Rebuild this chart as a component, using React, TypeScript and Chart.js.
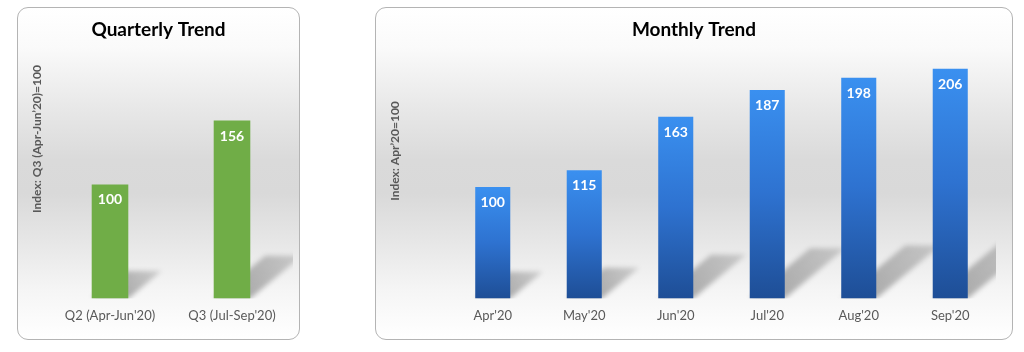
import React, { useEffect, useRef } from "react";
import { Chart, registerables } from "chart.js";

Chart.register(...registerables);

const quarterCategories = ["Q2 (Apr-Jun'20)", "Q3 (Jul-Sep'20)"];
const quarterValues = [100, 156];
const quarterTitle = "Quarterly Trend";
const quarterAxisTitle = "Index: Q3 (Apr-Jun’20)=100";

const monthCategories = ["Apr'20", "May'20", "Jun'20", "Jul'20", "Aug'20", "Sep'20"];
const monthValues = [100, 115, 163, 187, 198, 206];
const monthTitle = "Monthly Trend";
const monthAxisTitle = "Index: Apr’20=100";

const FONT = "Lato, 'Open Sans', sans-serif";

const barShadowPlugin = {
  id: "barShadow",
  beforeDatasetsDraw(chart: any) {
    const ctx = chart.ctx;
    const area = chart.chartArea;
    const meta = chart.getDatasetMeta(0);
    ctx.save();
    ctx.beginPath();
    ctx.rect(area.left, area.top - 100, area.right - area.left, area.bottom - area.top + 100);
    ctx.clip();
    ctx.filter = "blur(2.5px)";
    meta.data.forEach((bar: any) => {
      const { x, y, base, width } = bar.getProps(["x", "y", "base", "width"], true);
      const h = base - y;
      const L = x - width / 2;
      const R = x + width / 2;
      const dx = h * 0.29;
      const dy = h * 0.24;
      const g = ctx.createLinearGradient(R, base, R + dx, base - dy);
      g.addColorStop(0, "rgba(0,0,0,0.3)");
      g.addColorStop(1, "rgba(0,0,0,0.14)");
      ctx.fillStyle = g;
      ctx.beginPath();
      ctx.moveTo(L, base);
      ctx.lineTo(R, base);
      ctx.lineTo(R + dx, base - dy);
      ctx.lineTo(L + dx, base - dy);
      ctx.closePath();
      ctx.fill();
    });
    ctx.restore();
  },
};

const valueLabelPlugin = {
  id: "valueLabels",
  afterDatasetsDraw(chart: any) {
    const ctx = chart.ctx;
    const meta = chart.getDatasetMeta(0);
    const values = chart.data.datasets[0].data;
    ctx.save();
    ctx.fillStyle = "#ffffff";
    ctx.font = `bold 14px ${FONT}`;
    ctx.textAlign = "center";
    ctx.textBaseline = "middle";
    meta.data.forEach((bar: any, i: number) => {
      const { x, y } = bar.getProps(["x", "y"], true);
      ctx.fillText(String(values[i]), x, y + 15.5);
    });
    ctx.restore();
  },
};

const panelTextPlugin = {
  id: "panelText",
  afterDraw(chart: any, _args: any, opts: any) {
    if (!opts) return;
    const ctx = chart.ctx;
    ctx.save();
    ctx.fillStyle = "#000000";
    ctx.font = `bold 19px ${FONT}`;
    ctx.textAlign = "center";
    ctx.textBaseline = "middle";
    ctx.fillText(opts.title, chart.width / 2, opts.titleY);
    ctx.translate(opts.axisX, opts.axisY);
    ctx.rotate(-Math.PI / 2);
    ctx.fillStyle = "#595959";
    ctx.font = `bold 12px ${FONT}`;
    ctx.fillText(opts.axisTitle, 0, 0);
    ctx.restore();
  },
};

function blueGradient(c: any) {
  const chart = c.chart;
  if (!chart.chartArea || c.type !== "data") return "#3A8EEC";
  const ys = chart.scales.y;
  const top = ys.getPixelForValue(c.raw);
  const bottom = ys.getPixelForValue(0);
  const g = chart.ctx.createLinearGradient(0, top, 0, bottom);
  g.addColorStop(0, "#3A90F0");
  g.addColorStop(0.5, "#2E72D0");
  g.addColorStop(1, "#1E4E96");
  return g;
}

function makeConfig(opts: {
  labels: string[];
  values: number[];
  title: string;
  axisTitle: string;
  color: any;
  max: number;
  barPct: number;
  padLeft: number;
  padRight: number;
  padTop: number;
  axisX: number;
  axisY: number;
}) {
  return {
    type: "bar" as const,
    data: {
      labels: opts.labels,
      datasets: [
        {
          data: opts.values,
          backgroundColor: opts.color,
          borderWidth: 0,
          categoryPercentage: 1,
          barPercentage: opts.barPct,
        },
      ],
    },
    options: {
      animation: false as const,
      responsive: false,
      maintainAspectRatio: false,
      layout: { padding: { left: opts.padLeft, right: opts.padRight, top: opts.padTop, bottom: 5 } },
      plugins: {
        legend: { display: false },
        tooltip: { enabled: false },
        title: { display: false },
        panelText: {
          title: opts.title,
          titleY: 22,
          axisTitle: opts.axisTitle,
          axisX: opts.axisX,
          axisY: opts.axisY,
        },
      },
      scales: {
        x: {
          grid: { display: false, drawTicks: false },
          border: { display: false },
          ticks: { color: "#595959", font: { family: FONT, size: 13 }, padding: 10 },
        },
        y: { display: false, min: 0, max: opts.max },
      },
    },
    plugins: [barShadowPlugin, valueLabelPlugin, panelTextPlugin],
  };
}

const panelBg =
  "linear-gradient(to bottom, #ffffff 0%, #fafafa 12%, #e8e8e8 30%, #dadada 46%, #d9d9d9 56%, #e6e6e6 70%, #f5f5f5 85%, #ffffff 100%)";

function Panel(props: { left: number; width: number; config: any }) {
  const ref = useRef<HTMLCanvasElement | null>(null);
  useEffect(() => {
    if (!ref.current) return;
    const chart = new Chart(ref.current, props.config);
    return () => chart.destroy();
  }, []);
  const w = props.width - 2;
  const h = 333 - 2;
  return (
    <div
      style={{
        position: "absolute",
        left: props.left,
        top: 7,
        width: props.width,
        height: 333,
        boxSizing: "border-box",
        border: "1px solid #b4b4b4",
        borderRadius: 11,
        background: panelBg,
        overflow: "hidden",
      }}
    >
      <canvas ref={ref} width={w} height={h} style={{ display: "block", width: w, height: h }} />
    </div>
  );
}

export default function App() {
  const quarterConfig = makeConfig({
    labels: quarterCategories,
    values: quarterValues,
    title: quarterTitle,
    axisTitle: quarterAxisTitle,
    color: "#70AD47",
    max: 210,
    barPct: 0.3,
    padLeft: 31,
    padRight: 6,
    padTop: 51,
    axisX: 19,
    axisY: 131,
  });
  const monthConfig = makeConfig({
    labels: monthCategories,
    values: monthValues,
    title: monthTitle,
    axisTitle: monthAxisTitle,
    color: blueGradient,
    max: 230,
    barPct: 0.383,
    padLeft: 71,
    padRight: 16,
    padTop: 34,
    axisX: 19,
    axisY: 143,
  });
  return (
    <div style={{ position: "absolute", left: 0, top: 0, width: 1024, height: 352, background: "#ffffff" }}>
      <Panel left={17} width={283} config={quarterConfig} />
      <Panel left={375} width={638} config={monthConfig} />
    </div>
  );
}
